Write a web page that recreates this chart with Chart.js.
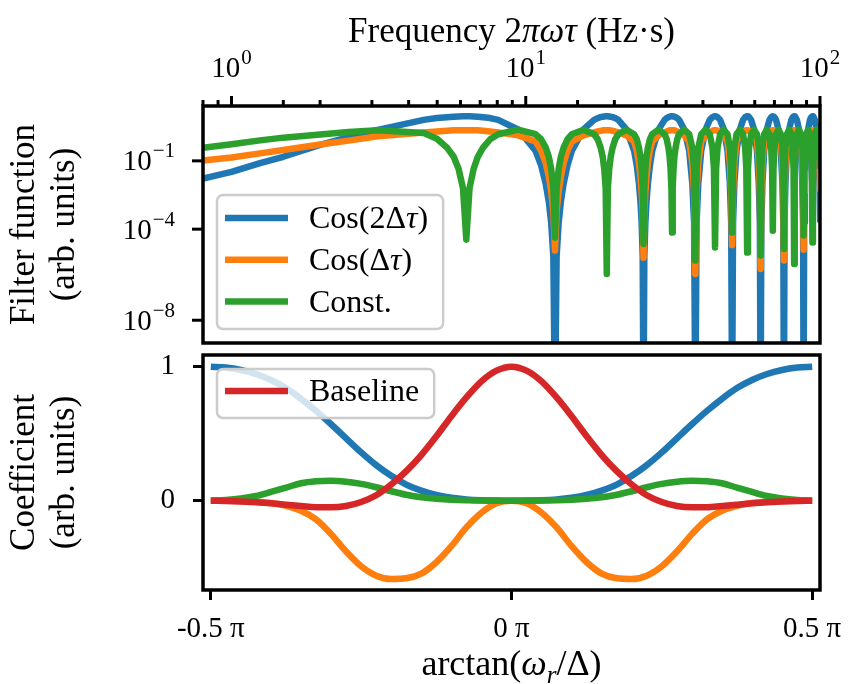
<!DOCTYPE html>
<html>
<head>
<meta charset="utf-8">
<script src="https://cdn.jsdelivr.net/npm/chart.js@4.4.1/dist/chart.umd.min.js"></script>
<style>
  body { margin: 0; background: #fff; }
  #wrap { position: relative; width: 848px; height: 684px; }
  #top { position: absolute; left: 0; top: 0; }
  #bot { position: absolute; left: 0; top: 348px; }
</style>
</head>
<body>
<div id="wrap">
  <canvas id="top" width="848" height="348"></canvas>
  <canvas id="bot" width="848" height="336"></canvas>
</div>
<script>
// ---- top panel: filter functions, x = 2πωτ, values stored as log10
const freq = [
  0.8, 1.0, 1.25, 1.5, 2.0, 2.5, 3.14,
  4.50, 4.99, 5.40, 5.69, 5.91, 6.12, 6.28, 6.44, 6.65, 6.87, 7.16, 7.57, 8.06, 9.42,
  10.79, 11.28, 11.69, 11.98, 12.20, 12.41, 12.57, 12.73, 12.94, 13.16, 13.45, 13.86, 14.35, 15.71,
  17.07, 17.56, 17.97, 18.26, 18.48, 18.69, 18.85, 19.01, 19.22, 19.44, 19.73, 20.14, 20.63, 21.99,
  23.35, 23.84, 24.25, 24.54, 24.76, 24.97, 25.13, 25.29, 25.50, 25.72, 26.01, 26.42, 26.91, 28.27,
  29.64, 30.13, 30.54, 30.83, 31.05, 31.26, 31.42, 31.58, 31.79, 32.01, 32.30, 32.71, 33.20, 34.56,
  35.92, 36.82, 37.33, 37.70, 38.07, 38.58, 39.48, 40.84,
  42.20, 43.10, 43.61, 43.98, 44.35, 44.86, 45.76, 47.12,
  48.49, 49.39, 49.90, 50.27, 50.64, 51.15, 52.05, 53.41,
  54.77, 55.67, 56.18, 56.55, 56.92, 57.43, 58.33, 59.69,
  61.05, 61.95, 62.46, 62.83, 63.20, 63.71, 64.61, 65.97,
  67.34, 68.24, 68.75, 69.12, 69.49, 70.00, 70.90, 72.26,
  73.62, 74.52, 75.03, 75.40, 75.77, 76.28, 77.18, 78.54,
  79.90, 80.80, 81.31, 81.68, 82.05, 82.56, 83.46, 84.82,
  86.18, 87.08, 87.59, 87.96, 88.33, 88.84, 89.74, 91.11,
  92.47, 93.37, 93.88, 94.25, 94.62, 95.13, 96.03, 97.39,
  98.75, 99.65, 100.16, 100.53
];

const cos2Exp = [
  -1.78, -1.48, -1.1, -0.82, -0.3, 0.04, 0.36,
  0.8, 0.88, 0.92, 0.94, 0.95, 0.96, 0.96, 0.96, 0.95, 0.94, 0.92, 0.88, 0.8, 0.38,
  -0.55, -1.2, -2.0, -2.8, -3.7, -5.2, -12, -5.2, -3.7, -2.8, -2.0, -1.2, -0.55, 0.38,
  0.8, 0.88, 0.92, 0.94, 0.95, 0.96, 0.96, 0.96, 0.95, 0.94, 0.92, 0.88, 0.8, 0.38,
  -0.55, -1.2, -2.0, -2.8, -3.7, -5.2, -12, -5.2, -3.7, -2.8, -2.0, -1.2, -0.55, 0.38,
  0.8, 0.88, 0.92, 0.94, 0.95, 0.96, 0.96, 0.96, 0.95, 0.94, 0.92, 0.88, 0.8, 0.38,
  -0.55, -2.0, -3.7, -12, -3.7, -2.0, -0.55, 0.38,
  0.8, 0.92, 0.95, 0.96, 0.95, 0.92, 0.8, 0.38,
  -0.55, -2.0, -3.7, -12, -3.7, -2.0, -0.55, 0.38,
  0.8, 0.92, 0.95, 0.96, 0.95, 0.92, 0.8, 0.38,
  -0.55, -2.0, -3.7, -12, -3.7, -2.0, -0.55, 0.38,
  0.8, 0.92, 0.95, 0.96, 0.95, 0.92, 0.8, 0.38,
  -0.55, -2.0, -3.7, -12, -3.7, -2.0, -0.55, 0.38,
  0.8, 0.92, 0.95, 0.96, 0.95, 0.92, 0.8, 0.38,
  -0.55, -2.0, -3.7, -12, -3.7, -2.0, -0.55, 0.38,
  0.8, 0.92, 0.95, 0.96, 0.95, 0.92, 0.8, 0.38,
  -0.55, -2.0, -3.7, -12
];

const cosExp = [
  -0.98, -0.85, -0.67, -0.52, -0.28, -0.11, 0.08,
  0.25, 0.29, 0.32, 0.34, 0.35, 0.35, 0.35, 0.35, 0.35, 0.34, 0.32, 0.29, 0.25, 0.12,
  -0.15, -0.55, -1.1, -1.7, -2.35, -3.2, -4.94, -3.2, -2.35, -1.7, -1.1, -0.55, -0.15, 0.12,
  0.25, 0.29, 0.32, 0.34, 0.35, 0.35, 0.35, 0.35, 0.35, 0.34, 0.32, 0.29, 0.25, 0.12,
  -0.15, -0.55, -1.1, -1.7, -2.35, -3.2, -5.25, -3.2, -2.35, -1.7, -1.1, -0.55, -0.15, 0.12,
  0.25, 0.29, 0.32, 0.34, 0.35, 0.35, 0.35, 0.35, 0.35, 0.34, 0.32, 0.29, 0.25, 0.12,
  -0.15, -1.1, -2.35, -5.97, -2.35, -1.1, -0.15, 0.12,
  0.25, 0.32, 0.35, 0.35, 0.35, 0.32, 0.25, 0.12,
  -0.15, -1.1, -2.35, -4.7, -2.35, -1.1, -0.15, 0.12,
  0.25, 0.32, 0.35, 0.35, 0.35, 0.32, 0.25, 0.12,
  -0.15, -1.1, -2.35, -5.75, -2.35, -1.1, -0.15, 0.12,
  0.25, 0.32, 0.35, 0.35, 0.35, 0.32, 0.25, 0.12,
  -0.15, -1.1, -2.35, -5.38, -2.35, -1.1, -0.15, 0.12,
  0.25, 0.32, 0.35, 0.35, 0.35, 0.32, 0.25, 0.12,
  -0.15, -1.1, -2.35, -4.9, -2.35, -1.1, -0.15, 0.12,
  0.25, 0.32, 0.35, 0.35, 0.35, 0.32, 0.25, 0.12,
  -0.15, -1.1, -2.35, -5.0
];

const constExp = [
  -0.43, -0.27, -0.1, 0.02, 0.16, 0.27, 0.34,
  0.22, -0.03, -0.42, -0.82, -1.35, -2.2, -4.46, -2.2, -1.35, -0.82, -0.42, -0.05, 0.17, 0.37,
  0.17, -0.05, -0.42, -0.82, -1.35, -2.2, -4.37, -2.2, -1.35, -0.82, -0.42, -0.05, 0.17, 0.37,
  0.17, -0.05, -0.42, -0.82, -1.35, -2.2, -5.97, -2.2, -1.35, -0.82, -0.42, -0.05, 0.17, 0.37,
  0.17, -0.05, -0.42, -0.82, -1.35, -2.2, -4.65, -2.2, -1.35, -0.82, -0.42, -0.05, 0.17, 0.37,
  0.17, -0.05, -0.42, -0.82, -1.35, -2.2, -4.15, -2.2, -1.35, -0.82, -0.42, -0.05, 0.17, 0.37,
  0.17, -0.42, -1.35, -5.38, -1.35, -0.42, 0.17, 0.37,
  0.17, -0.42, -1.35, -4.8, -1.35, -0.42, 0.17, 0.37,
  0.17, -0.42, -1.35, -4.15, -1.35, -0.42, 0.17, 0.37,
  0.17, -0.42, -1.35, -5.03, -1.35, -0.42, 0.17, 0.37,
  0.17, -0.42, -1.35, -5.16, -1.35, -0.42, 0.17, 0.37,
  0.17, -0.42, -1.35, -4.07, -1.35, -0.42, 0.17, 0.37,
  0.17, -0.42, -1.35, -4.87, -1.35, -0.42, 0.17, 0.37,
  0.17, -0.42, -1.35, -5.53, -1.35, -0.42, 0.17, 0.37,
  0.17, -0.42, -1.35, -4.28, -1.35, -0.42, 0.17, 0.37,
  0.17, -0.42, -1.35, -4.59, -1.35, -0.42, 0.17, 0.37,
  0.17, -0.42, -1.35, -4.5
];

const freqMajor = [1, 10, 100];
const filterTicks = [1e-1, 1e-4, 1e-8];

// ---- bottom panel: coefficients vs arctan(ωr/Δ), x in units of π
const angle = [
  -0.5, -0.475, -0.45, -0.425, -0.4, -0.375, -0.35, -0.325, -0.3, -0.275, -0.25,
  -0.225, -0.2, -0.175, -0.15, -0.125, -0.1, -0.075, -0.05, -0.025, 0,
  0.025, 0.05, 0.075, 0.1, 0.125, 0.15, 0.175, 0.2, 0.225, 0.25,
  0.275, 0.3, 0.325, 0.35, 0.375, 0.4, 0.425, 0.45, 0.475, 0.5
];
const cos2Coef = [
  1.0, 0.993, 0.975, 0.945, 0.9, 0.84, 0.76, 0.67, 0.57, 0.465, 0.36,
  0.265, 0.185, 0.12, 0.075, 0.042, 0.021, 0.009, 0.003, 0.0003, 0,
  0.0003, 0.003, 0.009, 0.021, 0.042, 0.075, 0.12, 0.185, 0.265, 0.36,
  0.465, 0.57, 0.67, 0.76, 0.84, 0.9, 0.945, 0.975, 0.993, 1.0
];
const cosCoef = [
  0, -0.001, -0.003, -0.008, -0.018, -0.038, -0.075, -0.14, -0.25, -0.38, -0.49,
  -0.56, -0.585, -0.58, -0.545, -0.46, -0.34, -0.2, -0.09, -0.02, 0,
  -0.02, -0.09, -0.2, -0.34, -0.46, -0.545, -0.58, -0.585, -0.56, -0.49,
  -0.38, -0.25, -0.14, -0.075, -0.038, -0.018, -0.008, -0.003, -0.001, 0
];
const constCoef = [
  0, 0.005, 0.016, 0.035, 0.065, 0.097, 0.13, 0.145, 0.149, 0.141, 0.125,
  0.1, 0.07, 0.044, 0.025, 0.014, 0.007, 0.003, 0.001, 0, 0,
  0, 0.001, 0.003, 0.007, 0.014, 0.025, 0.044, 0.07, 0.1, 0.125,
  0.141, 0.149, 0.145, 0.13, 0.097, 0.065, 0.035, 0.016, 0.005, 0
];
const baseCoef = [
  0, -0.002, -0.006, -0.012, -0.02, -0.03, -0.04, -0.05, -0.05, -0.04, -0.01,
  0.04, 0.12, 0.22, 0.34, 0.48, 0.63, 0.77, 0.89, 0.97, 1.0,
  0.97, 0.89, 0.77, 0.63, 0.48, 0.34, 0.22, 0.12, 0.04, -0.01,
  -0.04, -0.05, -0.05, -0.04, -0.03, -0.02, -0.012, -0.006, -0.002, 0
];
const angleTicks = [-0.5, 0, 0.5];
const angleLabels = ['-0.5 π', '0 π', '0.5 π'];
const coefTicks = [0, 1];

const BLUE = '#1f77b4', ORANGE = '#ff7f0e', GREEN = '#2ca02c', RED = '#d62728';
const SERIF = "'Liberation Serif', 'Times New Roman', serif";
const TITLE = 35, TICK = 29, SUP = 21, LEG = 32, LW = 6.5;

Chart.defaults.font.family = SERIF;
Chart.defaults.color = '#000';

function seg(ctx, x1, y1, x2, y2) {
  ctx.beginPath(); ctx.moveTo(x1, y1); ctx.lineTo(x2, y2); ctx.stroke();
}

// split text into runs: greek lower case in italics, "_x" as subscript
function runs(s) {
  const out = [];
  for (let i = 0; i < s.length; i++) {
    let ch = s[i], sub = false;
    if (ch === '_') { sub = true; ch = s[++i]; }
    const it = sub || /[α-ω]/.test(ch);
    const last = out[out.length - 1];
    if (last && last.it === it && last.sub === sub) last.t += ch;
    else out.push({ t: ch, it, sub });
  }
  return out;
}
function runFont(r, size) {
  return (r.it ? 'italic ' : '') + (r.sub ? Math.round(size * 0.7) : size) + 'px ' + SERIF;
}
function richWidth(ctx, s, size) {
  let w = 0;
  runs(s).forEach(r => { ctx.font = runFont(r, size); w += ctx.measureText(r.t).width; });
  return w;
}
function drawRich(ctx, s, size, x, y, align) {
  const w = richWidth(ctx, s, size);
  let cx = align === 'center' ? x - w / 2 : align === 'right' ? x - w : x;
  ctx.textAlign = 'left'; ctx.textBaseline = 'alphabetic';
  runs(s).forEach(r => {
    ctx.font = runFont(r, size);
    ctx.fillText(r.t, cx, y + (r.sub ? size * 0.22 : 0));
    cx += ctx.measureText(r.t).width;
  });
}
function powerLabel(ctx, e, x, y, align) {
  const base = '10', sup = e < 0 ? '\u2212' + (-e) : String(e);
  ctx.font = TICK + 'px ' + SERIF; const w1 = ctx.measureText(base).width;
  ctx.font = SUP + 'px ' + SERIF; const w2 = ctx.measureText(sup).width;
  const x0 = align === 'center' ? x - (w1 + w2 + 1) / 2 : x - w1 - w2 - 1;
  ctx.textAlign = 'left'; ctx.textBaseline = 'alphabetic';
  ctx.font = TICK + 'px ' + SERIF; ctx.fillText(base, x0, y);
  ctx.font = SUP + 'px ' + SERIF; ctx.fillText(sup, x0 + w1 + 1, y - 13);
}

const frame = {
  id: 'frame',
  afterDatasetsDraw(chart) {
    const { ctx, chartArea: a } = chart;
    ctx.save();
    ctx.strokeStyle = '#000'; ctx.lineWidth = 3.5;
    ctx.strokeRect(a.left, a.top, a.right - a.left, a.bottom - a.top);
    ctx.restore();
  }
};

const logAxes = {
  id: 'logAxes',
  afterDraw(chart) {
    const { ctx, chartArea: a, scales: { x, y } } = chart;
    ctx.save();
    ctx.strokeStyle = '#000'; ctx.fillStyle = '#000'; ctx.lineWidth = 3;
    x.ticks.forEach(t => {
      if (t.value < x.min || t.value > x.max) return;
      const px = x.getPixelForValue(t.value);
      const major = freqMajor.includes(t.value);
      seg(ctx, px, a.top, px, a.top - (major ? 10 : 6));
      if (major) powerLabel(ctx, Math.round(Math.log10(t.value)), px, 77, 'center');
    });
    y.ticks.forEach(t => {
      const py = y.getPixelForValue(t.value);
      seg(ctx, a.left, py, a.left - 11, py);
      powerLabel(ctx, Math.round(Math.log10(t.value)), a.left - 28, py + 9.5, 'right');
    });
    ctx.restore();
  }
};

const xTitle = {
  id: 'xTitle',
  afterDraw(chart, args, o) {
    const { ctx, chartArea: a } = chart;
    ctx.save(); ctx.fillStyle = '#000';
    drawRich(ctx, o.text, o.size || TITLE, (a.left + a.right) / 2, o.y, 'center');
    ctx.restore();
  }
};

const boxLegend = {
  id: 'boxLegend',
  afterDraw(chart, args, o) {
    const { ctx, chartArea: a } = chart;
    const sets = o.items.map(l => chart.data.datasets.find(d => d.label === l));
    const tw = Math.max(...sets.map(d => richWidth(ctx, d.label, LEG)));
    const w = 92 + tw + 15;
    const h = o.first + (sets.length - 1) * 41.7 + o.last;
    const left = a.left + 14;
    const top = o.anchor === 'bottom' ? a.bottom - 14 - h : a.top + 14;
    ctx.save();
    ctx.beginPath(); ctx.roundRect(left, top, w, h, 6);
    ctx.fillStyle = 'rgba(255,255,255,0.8)'; ctx.fill();
    ctx.strokeStyle = '#cccccc'; ctx.lineWidth = 2.5; ctx.stroke();
    sets.forEach((d, i) => {
      const ry = top + o.first + i * 41.7;
      ctx.strokeStyle = d.borderColor; ctx.lineWidth = LW; ctx.lineCap = 'butt';
      seg(ctx, left + 8, ry, left + 71, ry);
      ctx.fillStyle = '#000';
      drawRich(ctx, d.label, LEG, left + 92, ry + 10, 'left');
    });
    ctx.restore();
  }
};

const logPoints = (xs, es) => xs.map((x, i) => ({ x, y: Math.pow(10, es[i]) }));
const points = (xs, ys) => xs.map((x, i) => ({ x, y: ys[i] }));

// fixed axis boxes so both panels line up like the original figure
const fixWidth = w => s => { s.width = w; s.paddingTop = 0; s.paddingBottom = 0; };
const fixHeight = h => s => { s.height = h; s.paddingLeft = 0; s.paddingRight = 0; };

const yTitleFont = { family: SERIF, size: TITLE, lineHeight: 1.14 };
const lineStyle = { borderWidth: LW, borderJoinStyle: 'round', pointRadius: 0, fill: false };

new Chart(document.getElementById('top'), {
  type: 'line',
  data: {
    datasets: [
      { label: 'Cos(2Δτ)', data: logPoints(freq, cos2Exp), borderColor: BLUE, order: 3, ...lineStyle },
      { label: 'Cos(Δτ)', data: logPoints(freq, cosExp), borderColor: ORANGE, order: 2, ...lineStyle },
      { label: 'Const.', data: logPoints(freq, constExp), borderColor: GREEN, order: 1, ...lineStyle }
    ]
  },
  options: {
    responsive: false,
    animation: false,
    events: [],
    layout: { padding: { left: 0, top: 0, right: 28, bottom: 5 } },
    plugins: {
      legend: { display: false },
      tooltip: { enabled: false },
      xTitle: { text: 'Frequency 2πωτ (Hz·s)', y: 42 },
      boxLegend: { items: ['Cos(2Δτ)', 'Cos(Δτ)', 'Const.'], anchor: 'bottom', first: 23, last: 27.5 }
    },
    scales: {
      x: {
        type: 'logarithmic', position: 'top', min: 0.8, max: 100,
        grid: { display: false }, border: { display: false },
        ticks: { display: false },
        afterFit: fixHeight(106)
      },
      y: {
        type: 'logarithmic', min: 1e-9, max: 25.7,
        grid: { display: false }, border: { display: false },
        ticks: { display: false },
        afterBuildTicks: s => { s.ticks = filterTicks.map(v => ({ value: v })); },
        title: { display: true, text: ['Filter function', '(arb. units)'], font: yTitleFont, color: '#000', padding: { top: 5, bottom: 0 } },
        afterFit: fixWidth(203)
      }
    }
  },
  plugins: [frame, logAxes, xTitle, boxLegend]
});

const tickGrid = { drawOnChartArea: false, drawTicks: true, tickLength: 10, tickWidth: 3, tickColor: '#000' };

new Chart(document.getElementById('bot'), {
  type: 'line',
  data: {
    datasets: [
      { label: 'Cos(2Δτ)', data: points(angle, cos2Coef), borderColor: BLUE, order: 4, cubicInterpolationMode: 'monotone', ...lineStyle },
      { label: 'Cos(Δτ)', data: points(angle, cosCoef), borderColor: ORANGE, order: 3, cubicInterpolationMode: 'monotone', ...lineStyle },
      { label: 'Const.', data: points(angle, constCoef), borderColor: GREEN, order: 2, cubicInterpolationMode: 'monotone', ...lineStyle },
      { label: 'Baseline', data: points(angle, baseCoef), borderColor: RED, order: 1, cubicInterpolationMode: 'monotone', ...lineStyle }
    ]
  },
  options: {
    responsive: false,
    animation: false,
    events: [],
    layout: { padding: { left: 0, top: 7, right: 28, bottom: 0 } },
    plugins: {
      legend: { display: false },
      tooltip: { enabled: false },
      xTitle: { text: 'arctan(ω_r/Δ)', y: 327, size: 36 },
      boxLegend: { items: ['Baseline'], anchor: 'top', first: 22, last: 27 }
    },
    scales: {
      x: {
        type: 'linear', min: -0.513, max: 0.513,
        grid: tickGrid, border: { display: false },
        afterBuildTicks: s => { s.ticks = angleTicks.map(v => ({ value: v })); },
        ticks: { callback: (v, i) => angleLabels[i], font: { family: SERIF, size: TICK }, color: '#000', padding: 12, maxRotation: 0, autoSkip: false },
        afterFit: fixHeight(94)
      },
      y: {
        type: 'linear', min: -0.667, max: 1.087,
        grid: tickGrid, border: { display: false },
        afterBuildTicks: s => { s.ticks = coefTicks.map(v => ({ value: v })); },
        ticks: { callback: v => String(v), font: { family: SERIF, size: TICK }, color: '#000', padding: 18 },
        title: { display: true, text: ['Coefficient', '(arb. units)'], font: yTitleFont, color: '#000', padding: { top: 5, bottom: 0 } },
        afterFit: fixWidth(203)
      }
    }
  },
  plugins: [frame, xTitle, boxLegend]
});
</script>
</body>
</html>
